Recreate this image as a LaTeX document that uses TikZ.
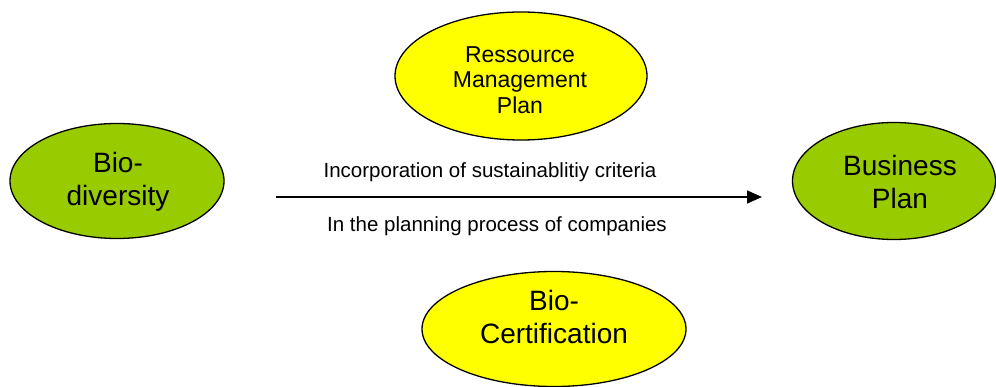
\documentclass[tikz,border=0pt]{standalone}
\usepackage{fontspec}
\setmainfont{Liberation Sans}
\usetikzlibrary{shapes.geometric,arrows.meta}
\definecolor{leaf}{RGB}{153,204,0}
\definecolor{sun}{RGB}{255,255,0}
\begin{document}
\begin{tikzpicture}[x=1pt,y=-1pt,
  oval/.style={ellipse, draw=black, line width=1.3pt, inner sep=0pt},
  greenoval/.style={oval, fill=leaf},
  yellowoval/.style={oval, fill=sun},
  ovaltext/.style={align=center, inner sep=0pt},
  bigtext/.style={ovaltext, font=\fontsize{28}{33}\selectfont},
  smalltext/.style={ovaltext, font=\fontsize{23}{25.5}\selectfont},
  labeltext/.style={font=\fontsize{20.5}{24}\selectfont, inner sep=0pt},
  flow/.style={-{Triangle[length=15pt,width=13pt]}, line width=1.5pt}]
\useasboundingbox (0,0) rectangle (996,387);
\node[greenoval, minimum width=214pt, minimum height=115pt] (bio) at (117,181) {};
\node[bigtext] (biotext) at (118,182) {Bio-\\diversity};
\node[greenoval, minimum width=203pt, minimum height=117pt] (bus) at (894,181) {};
\node[bigtext] (bustext) at (900,182) {Business\\Plan};
\node[yellowoval, minimum width=252pt, minimum height=128pt] (res) at (521,76) {};
\node[smalltext] (restext) at (520,80) {Ressource\\Management\\Plan};
\node[yellowoval, minimum width=264pt, minimum height=115pt] (cert) at (554,329) {};
\node[bigtext] (certtext) at (554,317) {Bio-\\Certification};
\coordinate (as) at (276,197);
\coordinate (ae) at (762,197);
\draw[flow] (as) -- (ae);
\node[labeltext] (top) at (490,172) {Incorporation of sustainablitiy criteria};
\node[labeltext] (bot) at (497,226) {In the planning process of companies};
\end{tikzpicture}
\end{document}
